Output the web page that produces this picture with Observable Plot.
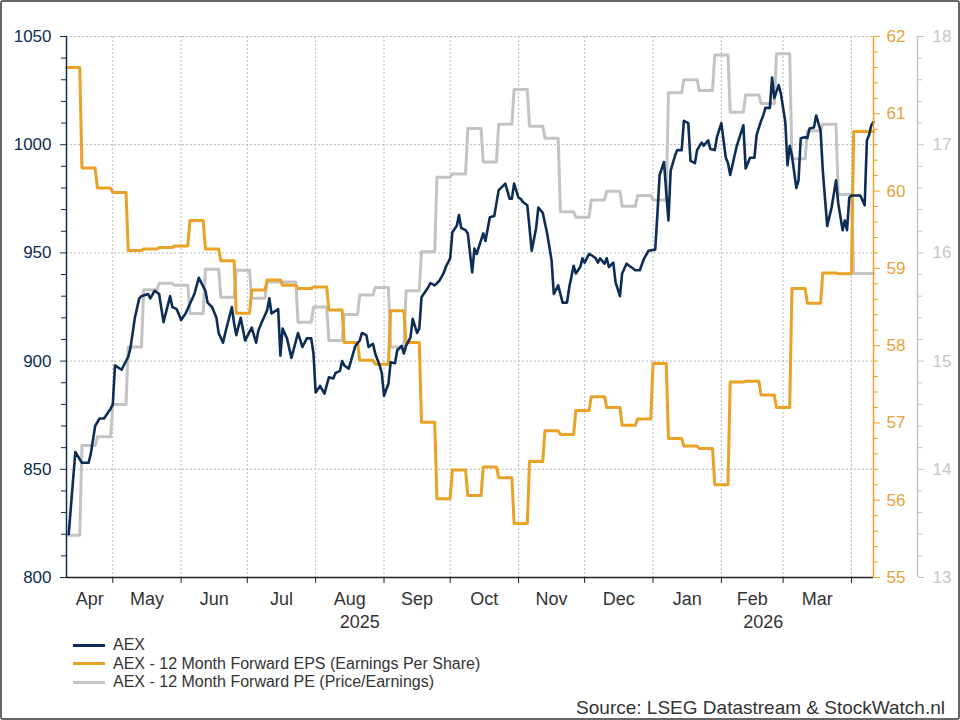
<!DOCTYPE html>
<html>
<head>
<meta charset="utf-8">
<script src="https://cdn.jsdelivr.net/npm/d3@7"></script>
<script src="https://cdn.jsdelivr.net/npm/@observablehq/plot@0.6"></script>
<style>
  html, body { margin: 0; padding: 0; background: #fff; }
  #wrap { position: relative; width: 960px; height: 720px; overflow: hidden; background: #fff;
          font-family: "Liberation Sans", Arial, sans-serif; }
  #wrap::after { content: ""; position: absolute; inset: 0; border: 2px solid #666; border-radius: 3px; pointer-events: none; }
  #chart { position: absolute; left: 0; top: 0; }
  #legend { position: absolute; left: 73px; top: 636px; font-size: 16px; color: #333; }
  #legend .row { height: 18.5px; display: flex; align-items: center; }
  #legend .sw { width: 32px; height: 3px; margin-right: 8px; }
  #source { position: absolute; right: 15px; top: 697px; font-size: 19px; color: #333; }
</style>
</head>
<body>
<div id="wrap">
  <div id="chart"></div>
  <div id="legend"></div>
  <div id="source">Source: LSEG Datastream &amp; StockWatch.nl</div>
</div>
<script>
// AEX daily close
const aexDates = [
  "2025-04-11","2025-04-14","2025-04-17","2025-04-20","2025-04-21","2025-04-23","2025-04-25","2025-04-27","2025-04-30",
  "2025-05-01","2025-05-02","2025-05-05","2025-05-08","2025-05-09","2025-05-11","2025-05-13","2025-05-14","2025-05-17",
  "2025-05-18","2025-05-20","2025-05-22","2025-05-24","2025-05-27","2025-05-28","2025-05-30",
  "2025-06-01","2025-06-03","2025-06-07","2025-06-09","2025-06-12","2025-06-13","2025-06-15","2025-06-17","2025-06-18",
  "2025-06-20","2025-06-21","2025-06-24","2025-06-25","2025-06-26","2025-06-28","2025-06-30",
  "2025-07-03","2025-07-05","2025-07-06","2025-07-08","2025-07-10","2025-07-11","2025-07-12","2025-07-15","2025-07-16",
  "2025-07-17","2025-07-19","2025-07-21","2025-07-24","2025-07-26","2025-07-28","2025-07-30","2025-07-31",
  "2025-08-01","2025-08-03","2025-08-05","2025-08-07","2025-08-09","2025-08-10","2025-08-12","2025-08-13","2025-08-14",
  "2025-08-16","2025-08-17","2025-08-19","2025-08-21","2025-08-22","2025-08-24","2025-08-25","2025-08-27","2025-08-28",
  "2025-08-30","2025-08-31",
  "2025-09-01","2025-09-03","2025-09-04","2025-09-06","2025-09-07","2025-09-09","2025-09-10","2025-09-11","2025-09-13",
  "2025-09-14","2025-09-16","2025-09-17","2025-09-18","2025-09-20","2025-09-21","2025-09-22","2025-09-24","2025-09-26",
  "2025-09-28","2025-09-29",
  "2025-10-01","2025-10-02","2025-10-04","2025-10-05","2025-10-06","2025-10-08","2025-10-09","2025-10-11","2025-10-12",
  "2025-10-13","2025-10-16","2025-10-17","2025-10-19","2025-10-21","2025-10-23","2025-10-25","2025-10-26","2025-10-28",
  "2025-10-29","2025-10-30",
  "2025-11-01","2025-11-02","2025-11-03","2025-11-05","2025-11-07","2025-11-09","2025-11-10","2025-11-12","2025-11-14",
  "2025-11-16","2025-11-17","2025-11-19","2025-11-21","2025-11-23","2025-11-24","2025-11-26","2025-11-27","2025-11-29",
  "2025-11-30",
  "2025-12-01","2025-12-03","2025-12-04","2025-12-06","2025-12-07","2025-12-08","2025-12-10","2025-12-11","2025-12-12",
  "2025-12-14","2025-12-15","2025-12-17","2025-12-18","2025-12-20","2025-12-22","2025-12-24","2025-12-26","2025-12-28",
  "2025-12-30",
  "2026-01-02","2026-01-03","2026-01-04","2026-01-06","2026-01-07","2026-01-08","2026-01-09","2026-01-11","2026-01-12",
  "2026-01-14","2026-01-15","2026-01-17","2026-01-18","2026-01-20","2026-01-21","2026-01-23","2026-01-24","2026-01-26",
  "2026-01-27","2026-01-29","2026-01-30",
  "2026-02-01","2026-02-03","2026-02-04","2026-02-05","2026-02-07","2026-02-08","2026-02-11","2026-02-12","2026-02-14",
  "2026-02-16","2026-02-17","2026-02-19","2026-02-20","2026-02-21","2026-02-23","2026-02-24","2026-02-25","2026-02-27",
  "2026-02-28",
  "2026-03-02","2026-03-03","2026-03-04","2026-03-05","2026-03-07","2026-03-08","2026-03-09","2026-03-11","2026-03-12",
  "2026-03-13","2026-03-15","2026-03-16","2026-03-18","2026-03-19","2026-03-21","2026-03-23","2026-03-25","2026-03-26",
  "2026-03-28","2026-03-29","2026-03-30","2026-03-31",
  "2026-04-01","2026-04-03","2026-04-05","2026-04-07","2026-04-08","2026-04-09","2026-04-10","2026-04-11"
];
const aexClose = [
  820, 858, 853, 853, 857, 870, 873.5, 873.5, 878,
  880, 898, 896, 902, 906, 920, 929, 930, 931,
  929, 932.5, 931, 918, 930, 925, 924,
  919, 922, 931, 938.5, 932.5, 927, 925, 920, 913,
  908.5, 913, 925, 917.5, 912, 920, 909.5,
  915.5, 908.5, 914, 919, 923.5, 929, 922, 924, 902.5,
  915, 910.5, 901.5, 913, 906.5, 910.5, 910.5, 903.5,
  885.5, 888.5, 885, 892.5, 892, 894.5, 895.5, 900, 898,
  896.5, 900, 907, 909.5, 913, 912, 906.5, 908, 903.5,
  898, 894.5,
  884, 889.5, 899.5, 899, 905, 907, 903.5, 907, 911,
  919.5, 913, 915, 929.5, 932.5, 934, 936, 935, 937,
  940.5, 943.5,
  947.5, 959.5, 962.5, 967.5, 961.5, 960.5, 959, 941, 952,
  949.5, 959, 955.5, 966.5, 967, 979, 981, 982, 975,
  975, 982,
  975.5, 975, 973.5, 972, 951, 961.5, 971, 968.5, 959,
  946.5, 931, 935, 927, 927, 934, 944, 940.5, 943.5,
  947.5,
  945.5, 949.5, 949, 947.5, 945.5, 947.5, 945, 947.5, 943.5,
  945.5, 936.5, 930, 940.5, 945, 943.5, 942, 942, 947.5,
  951,
  951.5, 968, 986, 992, 978, 965, 988, 995, 997.5,
  997.5, 1011, 1010, 992.5, 991.5, 997.5, 1001, 999.5, 1002,
  998, 997.5, 1003.5,
  1010, 994, 991.5, 986, 995, 999.5, 1009, 989, 994,
  994, 1004.5, 1011, 1013.5, 1017, 1017, 1031, 1021.5, 1027.5,
  1023.5,
  1010.5, 990.5, 999.5, 995, 980, 983.5, 1003, 1003.5, 1003,
  1007.5, 1008, 1013.5, 1006.5, 988, 962.5, 971, 983.5, 973,
  960.5, 965, 960.5, 975.5,
  976.5, 976.5, 976.5, 972, 1002, 1004.5, 1009, 1010.5
];

// Weekly consensus updates (Thursdays)
const weekDates = [
  "2025-04-10","2025-04-17","2025-04-24","2025-05-01","2025-05-08","2025-05-15","2025-05-22","2025-05-29",
  "2025-06-05","2025-06-12","2025-06-19","2025-06-26","2025-07-03","2025-07-10","2025-07-17","2025-07-24",
  "2025-07-31","2025-08-07","2025-08-14","2025-08-21","2025-08-28","2025-09-04","2025-09-11","2025-09-18",
  "2025-09-25","2025-10-02","2025-10-09","2025-10-16","2025-10-23","2025-10-30","2025-11-06","2025-11-13",
  "2025-11-20","2025-11-27","2025-12-04","2025-12-11","2025-12-18","2025-12-25","2026-01-01","2026-01-08",
  "2026-01-15","2026-01-22","2026-01-29","2026-02-05","2026-02-12","2026-02-19","2026-02-26","2026-03-05",
  "2026-03-12","2026-03-19","2026-03-26","2026-04-02","2026-04-09"
];
const epsForward = [
  61.60, 60.30, 60.04, 59.98, 59.23, 59.25, 59.27, 59.29,
  59.62, 59.25, 59.10, 58.42, 58.72, 58.85, 58.78, 58.74,
  58.76, 58.46, 58.04, 57.81, 57.76, 58.45, 58.04, 57.01,
  56.02, 56.39, 56.06, 56.43, 56.29, 55.70, 56.50, 56.90,
  56.85, 57.16, 57.34, 57.20, 56.97, 57.05, 57.77, 56.80,
  56.70, 56.67, 56.20, 57.53, 57.54, 57.36, 57.20, 58.74,
  58.55, 58.94, 58.93, 60.77, 60.77
];
const peForward = [
  13.39, 14.22, 14.30, 14.60, 15.13, 15.66, 15.72, 15.70,
  15.44, 15.85, 15.59, 15.84, 15.58, 15.73, 15.73, 15.36,
  15.50, 15.19, 15.43, 15.61, 15.68, 15.13, 15.65, 16.01,
  16.70, 16.73, 17.15, 16.84, 17.19, 17.51, 17.17, 17.06,
  16.38, 16.33, 16.49, 16.57, 16.43, 16.53, 16.49, 17.48,
  17.60, 17.50, 17.83, 17.30, 17.46, 17.38, 17.84, 16.87,
  17.13, 17.19, 16.54, 15.81, 15.81
];

const monthNames = ["Apr","May","Jun","Jul","Aug","Sep","Oct","Nov","Dec","Jan","Feb","Mar"];
const yearNames = ["2025", "2026"];
const seriesNames = [
  "AEX",
  "AEX - 12 Month Forward EPS (Earnings Per Share)",
  "AEX - 12 Month Forward PE (Price/Earnings)"
];
const aexTicks = [800, 850, 900, 950, 1000, 1050];
const epsTicks = [55, 56, 57, 58, 59, 60, 61, 62];
const peTicks = [13, 14, 15, 16, 17, 18];

const NAVY = "#0c2d56", ORANGE = "#e9a126", GREY = "#c3c3c3";
const ORANGE_TEXT = "#e4a23c", GREY_TEXT = "#c6c6c6";

const parse = d3.utcParse("%Y-%m-%d");
const xStart = parse("2025-04-10"), xEnd = parse("2026-04-11");

// The EPS and PE series share the AEX y scale through linear maps onto 800–1050
const [A0, A1] = [aexTicks[0], aexTicks[aexTicks.length - 1]];
const epsToAex = v => A0 + (v - 55) / 7 * (A1 - A0);
const aexToEps = v => 55 + (v - A0) / (A1 - A0) * 7;
const peToAex = v => A0 + (v - 13) / 5 * (A1 - A0);
const aexToPe = v => 13 + (v - A0) / (A1 - A0) * 5;

const aex = aexDates.map((d, i) => ({date: parse(d), value: aexClose[i]}));

// each weekly value holds from its Thursday until the following Wednesday
function weeklySteps(values, toAex) {
  const pts = [];
  weekDates.forEach((s, i) => {
    const start = parse(s);
    const end = new Date(Math.min(+d3.utcDay.offset(start, 6), +xEnd));
    pts.push({date: start, y: toAex(values[i])}, {date: end, y: toAex(values[i])});
  });
  return pts;
}
const epsSteps = weeklySteps(epsForward, epsToAex);
const peSteps = weeklySteps(peForward, peToAex);

const monthStarts = d3.utcMonths(parse("2025-05-01"), parse("2026-04-02"));
const monthLabels = monthNames.map((label, i) => {
  const m = d3.utcMonth.offset(parse("2025-04-01"), i);
  const lo = Math.max(+m, +xStart), hi = +d3.utcMonth.offset(m, 1);
  return {date: new Date((lo + hi) / 2), label};
});
const newYear = parse("2026-01-01");
const yearLabels = [
  {date: new Date((+xStart + +newYear) / 2), label: yearNames[0]},
  {date: new Date((+newYear + +xEnd) / 2), label: yearNames[1]}
];

const aexMinor = d3.range(800, 1051, 10).filter(v => v % 50 !== 0);
const epsMinor = d3.range(0, 36).map(i => 55 + i * 0.2).filter((v, i) => i % 5 !== 0).map(epsToAex);
const peMinor = d3.range(0, 26).map(i => 13 + i * 0.2).filter((v, i) => i % 5 !== 0).map(peToAex);

const grid = {stroke: "#b8b8b8", strokeOpacity: 1, strokeDasharray: "2,2", strokeWidth: 1};
const blank = () => "";

const chart = Plot.plot({
  width: 960,
  height: 632,
  marginLeft: 66,
  marginRight: 87,
  marginTop: 36,
  marginBottom: 55,
  style: {fontFamily: '"Liberation Sans", Arial, sans-serif', fontSize: "17px", background: "transparent", overflow: "visible"},
  x: {type: "utc", domain: [xStart, xEnd], axis: null},
  y: {domain: [A0, A1], axis: null},
  marks: [
    Plot.gridY(aexTicks.slice(1), grid),
    Plot.gridX(monthStarts, grid),
    Plot.line(peSteps, {x: "date", y: "y", stroke: GREY, strokeWidth: 3, strokeLinejoin: "round"}),
    Plot.line(epsSteps, {x: "date", y: "y", stroke: ORANGE, strokeWidth: 3, strokeLinejoin: "round"}),
    Plot.line(aex, {x: "date", y: "value", stroke: NAVY, strokeWidth: 2.6, strokeLinejoin: "round"}),

    // axis lines
    Plot.ruleX([xStart], {stroke: NAVY, strokeWidth: 1.5}),
    Plot.ruleX([xEnd], {stroke: ORANGE, strokeWidth: 1.5}),
    Plot.ruleX([xEnd], {stroke: GREY, strokeWidth: 1.5, dx: 44}),
    Plot.ruleY([A0], {stroke: "#222", strokeWidth: 1.5}),

    // left axis: AEX
    Plot.axisY(aexTicks, {anchor: "left", color: NAVY, tickSize: 6, tickPadding: 9, fontSize: 17, tickFormat: d => String(d)}),
    Plot.axisY(aexMinor, {anchor: "left", stroke: NAVY, tickSize: 5, tickFormat: blank}),

    // first right axis: EPS
    Plot.axisY(epsTicks.map(epsToAex), {anchor: "right", stroke: ORANGE, fill: ORANGE_TEXT, tickSize: 6, tickPadding: 7, fontSize: 17,
      tickFormat: v => String(Math.round(aexToEps(v)))}),
    Plot.axisY(epsMinor, {anchor: "right", stroke: ORANGE, tickSize: 4, tickFormat: blank}),

    // second right axis: PE
    Plot.axisY(peTicks.map(peToAex), {anchor: "right", dx: 44, stroke: GREY, fill: GREY_TEXT, tickSize: 6, tickPadding: 9, fontSize: 17,
      tickFormat: v => String(Math.round(aexToPe(v)))}),
    Plot.axisY(peMinor, {anchor: "right", dx: 44, stroke: GREY, tickSize: 4, tickFormat: blank}),

    // time axis
    Plot.axisX(monthStarts, {anchor: "bottom", stroke: "#222", tickSize: 6, tickFormat: blank}),
    Plot.text(monthLabels, {x: "date", text: "label", frameAnchor: "bottom", dy: 27, fill: "#333", fontSize: 18}),
    Plot.text(yearLabels, {x: "date", text: "label", frameAnchor: "bottom", dy: 50, fill: "#333", fontSize: 18})
  ]
});
document.getElementById("chart").append(chart);

// legend
const legend = document.getElementById("legend");
[NAVY, ORANGE, GREY].forEach((c, i) => {
  const row = document.createElement("div");
  row.className = "row";
  const sw = document.createElement("span");
  sw.className = "sw";
  sw.style.background = c;
  const label = document.createElement("span");
  label.textContent = seriesNames[i];
  row.append(sw, label);
  legend.append(row);
});
</script>
</body>
</html>
